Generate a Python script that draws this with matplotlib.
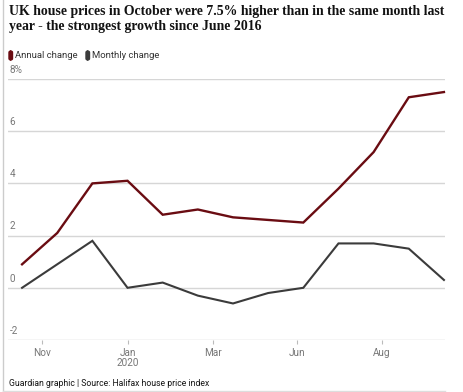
import numpy as np
import matplotlib.pyplot as plt
from matplotlib.patches import FancyBboxPatch
from matplotlib.lines import Line2D

# data, Oct 2019 .. Oct 2020
months = ["Oct", "Nov", "Dec", "Jan", "Feb", "Mar", "Apr", "May", "Jun", "Jul", "Aug", "Sep", "Oct"]
annual = [0.9, 2.1, 4.0, 4.1, 2.8, 3.0, 2.7, 2.6, 2.5, 3.8, 5.2, 7.3, 7.5]
monthly = [0.0, 0.9, 1.8, 0.0, 0.2, -0.3, -0.6, -0.2, 0.0, 1.7, 1.7, 1.5, 0.3]

# tick labels sit at odd positions in the original graphic
tick_pos = [0.57, 3.0, 5.42, 7.83, 10.24]
tick_labels = ["Nov", "Jan\n2020", "Mar", "Jun", "Aug"]
y_ticks = [-2, 0, 2, 4, 6, 8]

W, H = 464, 392
fig = plt.figure(figsize=(W / 100, H / 100), dpi=100)
fig.patch.set_facecolor("white")

red = "#6a0c12"
grey = "#3b3b3b"
label_grey = "#777777"
sans = ["Roboto", "DejaVu Sans"]

ax = fig.add_axes([8 / W, (H - 340) / H, (445 - 8) / W, (340 - 79) / H])
x = np.arange(len(months))
ax.plot(x, annual, color=red, lw=1.7, solid_joinstyle="miter", clip_on=False, zorder=3)
ax.plot(x, monthly, color=grey, lw=1.5, solid_joinstyle="miter", clip_on=False, zorder=3)

ax.set_xlim(-0.4, 12.03)
ax.set_ylim(-2, 8)
for s in ax.spines.values():
    s.set_visible(False)

for v in y_ticks:
    ax.axhline(v, color="#d6d6d6" if v != -2 else "#cfcfcf", lw=1.0, zorder=1)
    lab = "8%" if v == 8 else str(v)
    ax.annotate(lab, xy=(0, v), xycoords=("axes fraction", "data"),
                xytext=(1, 3), textcoords="offset points",
                fontsize=7.2, color=label_grey, family=sans, va="bottom", ha="left")
ax.set_yticks([])

ax.set_xticks(tick_pos)
ax.set_xticklabels(tick_labels, fontsize=7.2, color=label_grey, family=sans, linespacing=1.0)
ax.tick_params(axis="x", length=3, width=0.8, color="#bbbbbb", pad=3)

# title
fig.text(9 / W, 1 - 5 / H,
         "UK house prices in October were 7.5% higher than in the same month last\n"
         "year - the strongest growth since June 2016",
         fontsize=9.9, fontweight="bold", family=["Liberation Serif", "DejaVu Serif"],
         color="#121212", va="top", ha="left", linespacing=1.2)

# legend keys
keys = [(9, red, "Annual change"), (86, grey, "Monthly change")]
for px, c, name in keys:
    fig.patches.append(FancyBboxPatch((px / W, (H - 60) / H), 3.5 / W, 9 / H,
                                      boxstyle="round,pad=0,rounding_size=0.004",
                                      transform=fig.transFigure, color=c))
    fig.text((px + 6) / W, 1 - 56 / H, name, fontsize=6.8, family=sans,
             color="#333333", va="center", ha="left")

fig.text(9 / W, 1 - 383 / H, "Guardian graphic | Source: Halifax house price index",
         fontsize=6.2, family=sans, color="#121212", va="center", ha="left")

# frame lines of the screenshot
fig.add_artist(Line2D([2.5 / W, 2.5 / W], [0, 1], transform=fig.transFigure, color="#cccccc", lw=1))
fig.add_artist(Line2D([2.5 / W, 445 / W], [1.5 / H, 1.5 / H], transform=fig.transFigure, color="#dddddd", lw=1))

fig.savefig("out.png", dpi=100)
